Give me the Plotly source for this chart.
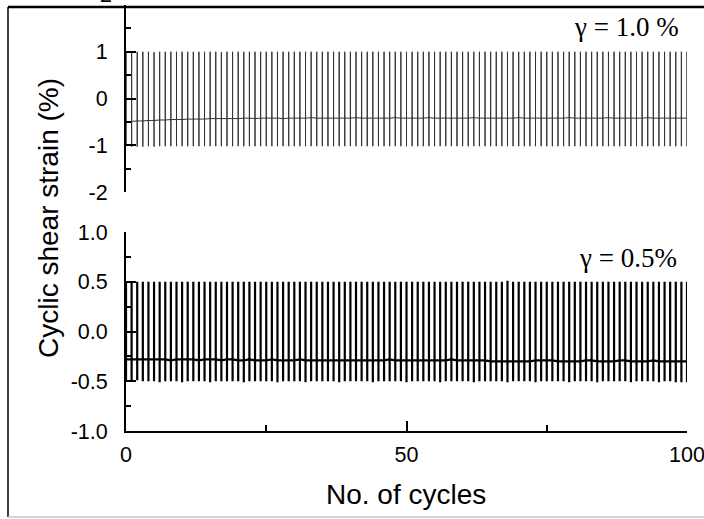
import plotly.graph_objects as go
from plotly.subplots import make_subplots

# Cycle numbers at which each loading cycle is recorded
cycles = list(range(0, 101))

# gamma = 1.0 % test: peak, trough and mean strain level per cycle (%)
peak_10 = [1.00, 1.00, 1.00, 1.00, 1.00, 0.99, 1.00, 1.00, 1.00, 1.00,
           1.00, 1.00, 1.00, 1.00, 1.00, 1.00, 1.00, 0.99, 1.00, 1.00,
           1.00, 1.00, 1.00, 1.00, 1.00, 1.00, 1.00, 1.00, 1.00, 1.00,
           1.00, 1.00, 1.00, 1.00, 1.00, 1.00, 1.00, 1.00, 1.00, 1.00,
           1.00, 1.00, 1.00, 1.00, 1.00, 1.00, 1.00, 1.00, 1.00, 1.00,
           1.00, 1.00, 1.00, 1.00, 1.00, 1.00, 1.00, 1.00, 1.00, 1.00,
           1.00, 1.00, 1.00, 1.00, 1.00, 1.00, 1.00, 1.00, 1.00, 1.00,
           1.00, 1.00, 1.00, 1.00, 1.00, 1.00, 1.00, 1.00, 1.00, 1.00,
           1.00, 1.00, 1.00, 1.00, 1.00, 1.00, 1.00, 1.00, 1.00, 1.00,
           1.00, 1.00, 1.00, 1.00, 1.00, 1.00, 1.00, 1.00, 1.00, 1.00, 1.00]
trough_10 = [-1.02, -1.03, -1.03, -1.03, -1.02, -1.03, -1.02, -1.02, -1.02, -1.02,
             -1.02, -1.02, -1.02, -1.02, -1.02, -1.02, -1.02, -1.02, -1.02, -1.02,
             -1.02, -1.02, -1.02, -1.02, -1.02, -1.02, -1.02, -1.02, -1.02, -1.02,
             -1.02, -1.02, -1.02, -1.02, -1.02, -1.02, -1.02, -1.02, -1.02, -1.02,
             -1.02, -1.02, -1.02, -1.02, -1.02, -1.02, -1.02, -1.02, -1.02, -1.02,
             -1.02, -1.02, -1.02, -1.02, -1.02, -1.02, -1.02, -1.02, -1.02, -1.02,
             -1.02, -1.02, -1.02, -1.02, -1.02, -1.02, -1.02, -1.02, -1.02, -1.02,
             -1.02, -1.02, -1.02, -1.02, -1.02, -1.02, -1.02, -1.02, -1.02, -1.02,
             -1.02, -1.02, -1.02, -1.02, -1.02, -1.02, -1.02, -1.02, -1.02, -1.02,
             -1.02, -1.02, -1.02, -1.02, -1.02, -1.02, -1.02, -1.02, -1.02, -1.02, -1.02]
mean_10 = [-0.50, -0.49, -0.48, -0.48, -0.47, -0.47, -0.46, -0.46, -0.45, -0.45,
           -0.45, -0.44, -0.44, -0.44, -0.44, -0.43, -0.43, -0.43, -0.43, -0.43,
           -0.43, -0.42, -0.42, -0.43, -0.42, -0.42, -0.42, -0.42, -0.43, -0.42,
           -0.42, -0.42, -0.42, -0.41, -0.42, -0.42, -0.42, -0.42, -0.42, -0.42,
           -0.42, -0.41, -0.42, -0.42, -0.42, -0.42, -0.42, -0.42, -0.41, -0.42,
           -0.42, -0.42, -0.42, -0.42, -0.41, -0.42, -0.42, -0.42, -0.42, -0.42,
           -0.42, -0.42, -0.41, -0.42, -0.42, -0.42, -0.42, -0.42, -0.42, -0.42,
           -0.41, -0.42, -0.42, -0.42, -0.42, -0.42, -0.42, -0.42, -0.42, -0.41,
           -0.42, -0.42, -0.42, -0.42, -0.42, -0.42, -0.41, -0.42, -0.42, -0.42,
           -0.42, -0.42, -0.42, -0.41, -0.42, -0.42, -0.42, -0.42, -0.42, -0.42, -0.42]

# gamma = 0.5 % test: peak, trough and mean strain level per cycle (%)
peak_05 = [0.50, 0.50, 0.50, 0.50, 0.50, 0.50, 0.50, 0.50, 0.50, 0.50,
           0.50, 0.50, 0.50, 0.50, 0.50, 0.50, 0.50, 0.50, 0.50, 0.50,
           0.50, 0.50, 0.50, 0.50, 0.50, 0.50, 0.50, 0.50, 0.50, 0.50,
           0.50, 0.50, 0.50, 0.50, 0.50, 0.50, 0.50, 0.50, 0.50, 0.50,
           0.50, 0.50, 0.50, 0.50, 0.50, 0.50, 0.50, 0.50, 0.50, 0.50,
           0.50, 0.50, 0.50, 0.50, 0.50, 0.50, 0.50, 0.50, 0.50, 0.50,
           0.50, 0.50, 0.50, 0.50, 0.50, 0.50, 0.50, 0.50, 0.51, 0.50,
           0.50, 0.50, 0.50, 0.50, 0.50, 0.50, 0.50, 0.50, 0.50, 0.50,
           0.50, 0.50, 0.50, 0.50, 0.50, 0.50, 0.50, 0.50, 0.50, 0.50,
           0.50, 0.50, 0.50, 0.50, 0.50, 0.50, 0.50, 0.50, 0.50, 0.50, 0.50]
trough_05 = [-0.50, -0.50, -0.49, -0.50, -0.50, -0.50, -0.51, -0.50, -0.50, -0.50,
             -0.51, -0.50, -0.50, -0.50, -0.50, -0.51, -0.50, -0.50, -0.50, -0.50,
             -0.50, -0.51, -0.50, -0.50, -0.50, -0.50, -0.50, -0.51, -0.50, -0.50,
             -0.50, -0.50, -0.51, -0.50, -0.50, -0.50, -0.50, -0.50, -0.51, -0.50,
             -0.50, -0.50, -0.50, -0.50, -0.51, -0.50, -0.50, -0.50, -0.50, -0.50,
             -0.51, -0.50, -0.50, -0.50, -0.50, -0.50, -0.51, -0.50, -0.50, -0.50,
             -0.50, -0.50, -0.51, -0.50, -0.50, -0.50, -0.50, -0.50, -0.51, -0.50,
             -0.50, -0.50, -0.50, -0.51, -0.50, -0.50, -0.50, -0.50, -0.50, -0.51,
             -0.50, -0.50, -0.50, -0.50, -0.51, -0.50, -0.50, -0.50, -0.50, -0.50,
             -0.51, -0.50, -0.50, -0.50, -0.50, -0.51, -0.50, -0.50, -0.51, -0.51, -0.51]
mean_05 = [-0.28, -0.28, -0.28, -0.28, -0.28, -0.28, -0.28, -0.28, -0.29, -0.28,
           -0.28, -0.28, -0.28, -0.29, -0.28, -0.28, -0.28, -0.29, -0.28, -0.28,
           -0.29, -0.29, -0.28, -0.29, -0.29, -0.29, -0.28, -0.29, -0.29, -0.29,
           -0.29, -0.28, -0.29, -0.29, -0.29, -0.29, -0.29, -0.29, -0.29, -0.29,
           -0.29, -0.29, -0.29, -0.29, -0.29, -0.29, -0.29, -0.28, -0.29, -0.29,
           -0.29, -0.29, -0.29, -0.29, -0.29, -0.29, -0.29, -0.29, -0.28, -0.29,
           -0.29, -0.29, -0.29, -0.29, -0.29, -0.30, -0.30, -0.30, -0.30, -0.30,
           -0.30, -0.30, -0.30, -0.29, -0.29, -0.29, -0.29, -0.30, -0.30, -0.30,
           -0.30, -0.30, -0.29, -0.29, -0.30, -0.30, -0.30, -0.30, -0.29, -0.29,
           -0.30, -0.30, -0.30, -0.30, -0.29, -0.30, -0.30, -0.30, -0.30, -0.30, -0.30]

top_ticks = [-2, -1, 0, 1, 2]
top_ticktext = ["-2", "-1", "0", "1", ""]
bottom_ticks = [-1.0, -0.5, 0.0, 0.5, 1.0]
bottom_ticktext = ["-1.0", "-0.5", "0.0", "0.5", "1.0"]
x_ticks = [0, 50, 100]
x_ticktext = ["0", "50", "100"]


def strain_path(xs, peaks, troughs, means):
    """Each cycle: hold at the mean level, swing to the peak, down to the trough, back."""
    px, py = [], []
    for c, hi, lo, m in zip(xs, peaks, troughs, means):
        px += [c, c, c, c]
        py += [m, hi, lo, m]
    return px, py


fig = make_subplots(rows=2, cols=1, shared_xaxes=True, vertical_spacing=0.0)

x10, y10 = strain_path(cycles, peak_10, trough_10, mean_10)
x05, y05 = strain_path(cycles, peak_05, trough_05, mean_05)

fig.add_trace(go.Scatter(x=x10, y=y10, mode="lines",
                         line=dict(color="#333333", width=1.0),
                         showlegend=False, hoverinfo="skip"), row=1, col=1)
fig.add_trace(go.Scatter(x=x05, y=y05, mode="lines",
                         line=dict(color="black", width=2.2),
                         showlegend=False, hoverinfo="skip"), row=2, col=1)

W, H = 704, 519
ML, MR, MT, MB = 126, 17, 5, 88
pw, ph = W - ML - MR, H - MT - MB


def px_x(p):
    return (p - ML) / pw


def px_y(p):
    return (H - MB - p) / ph


tick_font = dict(family="Liberation Sans, Arial, sans-serif", size=21.5, color="black")
title_font = dict(family="Liberation Sans, Arial, sans-serif", size=28, color="black")
gamma_font = dict(family="Liberation Serif, Times New Roman, serif", size=27, color="black")

axis_common = dict(showline=True, linecolor="black", linewidth=2, mirror=False,
                   showgrid=False, zeroline=False, ticks="inside", automargin=False,
                   ticklabeloverflow="allow",
                   tickcolor="black", tickwidth=2, tickfont=tick_font)

fig.update_xaxes(range=[0, 100], showline=False, showticklabels=False, automargin=False,
                 ticks="", showgrid=False, zeroline=False, row=1, col=1)
fig.update_xaxes(range=[0, 100], tickvals=x_ticks, ticktext=x_ticktext, ticklen=10,
                 minor=dict(dtick=25, ticklen=6, ticks="inside", tickcolor="black", tickwidth=2),
                 ticklabelstandoff=3, **axis_common, row=2, col=1)

fig.update_yaxes(range=[-2, 2], tickvals=top_ticks, ticktext=top_ticktext, ticklen=10,
                 minor=dict(dtick=0.5, ticklen=5, ticks="inside", tickcolor="black", tickwidth=2),
                 ticklabelstandoff=12, domain=[px_y(192), 1.0], **axis_common, row=1, col=1)
fig.update_yaxes(range=[-1, 1], tickvals=bottom_ticks, ticktext=bottom_ticktext, ticklen=10,
                 minor=dict(dtick=0.25, ticklen=5, ticks="inside", tickcolor="black", tickwidth=2),
                 ticklabelstandoff=12, domain=[0.0, px_y(232)], **axis_common, row=2, col=1)

annotations = [
    dict(text="2", x=px_x(114), y=px_y(-5), xref="paper", yref="paper",
         xanchor="right", yanchor="middle", showarrow=False, font=tick_font),
    dict(text="γ = 1.0 %", x=px_x(681), y=px_y(27), xref="paper", yref="paper",
         xanchor="right", yanchor="middle", showarrow=False, font=gamma_font),
    dict(text="γ = 0.5%", x=px_x(679), y=px_y(258), xref="paper", yref="paper",
         xanchor="right", yanchor="middle", showarrow=False, font=gamma_font),
    dict(text="No. of cycles", x=px_x(406), y=px_y(494), xref="paper", yref="paper",
         xanchor="center", yanchor="middle", showarrow=False, font=title_font),
    dict(text="Cyclic shear strain (%)", x=px_x(48), y=px_y(218), xref="paper", yref="paper",
         xanchor="center", yanchor="middle", textangle=-90, showarrow=False, font=title_font),
]

# Outer frame around the whole figure
shapes = [
    dict(type="line", xref="paper", yref="paper", x0=px_x(8), x1=px_x(730),
         y0=px_y(7), y1=px_y(7), line=dict(color="black", width=2.5)),
    dict(type="line", xref="paper", yref="paper", x0=px_x(8), x1=px_x(8),
         y0=px_y(7), y1=px_y(517), line=dict(color="black", width=1.5)),
    dict(type="line", xref="paper", yref="paper", x0=px_x(8), x1=px_x(730),
         y0=px_y(517), y1=px_y(517), line=dict(color="#c8c8c8", width=1.5)),
]

fig.update_layout(template="none", width=W, height=H,
                  margin=dict(l=ML, r=MR, t=MT, b=MB, autoexpand=False),
                  paper_bgcolor="white", plot_bgcolor="white",
                  annotations=annotations, shapes=shapes, showlegend=False)

fig.write_html("out.html")
